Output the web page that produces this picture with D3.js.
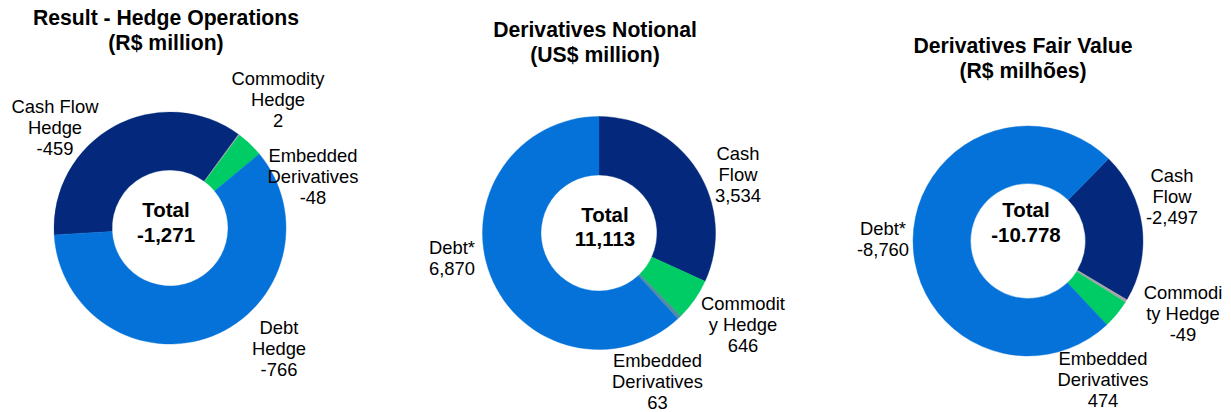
<!DOCTYPE html>
<html>
<head>
<meta charset="utf-8">
<script src="https://cdn.jsdelivr.net/npm/d3@7"></script>
<style>
  html, body { margin: 0; padding: 0; background: #fff; }
  svg { display: block; font-family: "Liberation Sans", Arial, sans-serif; }
</style>
</head>
<body>
<svg id="chart" width="1231" height="412"></svg>
<script>
// ---- data ----
const hedgeCategories = [["Cash Flow", "Hedge"], ["Commodity", "Hedge"], ["Embedded", "Derivatives"], ["Debt", "Hedge"]];
const hedgeValues = [-459, 2, -48, -766];
const hedgeTotal = "-1,271";

const notionalCategories = [["Cash", "Flow"], ["Commodit", "y Hedge"], ["Embedded", "Derivatives"], ["Debt*"]];
const notionalValues = [3534, 646, 63, 6870];
const notionalTotal = "11,113";

const fairCategories = [["Cash", "Flow"], ["Commodi", "ty Hedge"], ["Embedded", "Derivatives"], ["Debt*"]];
const fairValues = [-2497, -49, 474, -8760];
const fairTotal = "-10.778";

const titles = [
  ["Result - Hedge Operations", "(R$ million)"],
  ["Derivatives Notional", "(US$ million)"],
  ["Derivatives Fair Value", "(R$ milhões)"]
];

// ---- styling / layout ----
const NAVY = "#03287c", BLUE = "#0472d8", GREEN = "#00cc66", GRAY = "#a6a6a6", TEAL = "#4f8ea0";

const fmt = d3.format(",");

const charts = [
  {
    cats: hedgeCategories, vals: hedgeValues, total: hedgeTotal, title: titles[0],
    colors: [NAVY, GRAY, GREEN, BLUE],
    cx: 170, cy: 228, r0: 58, r1: 116, start: -93.4,
    titleX: 166, titleY: 25,
    totalX: 166, totalY: 217,
    labels: [[55, 113], [278, 85], [313, 161.5], [279, 334]]
  },
  {
    cats: notionalCategories, vals: notionalValues, total: notionalTotal, title: titles[1],
    colors: [NAVY, GREEN, TEAL, BLUE],
    cx: 599, cy: 233, r0: 58, r1: 116.5, start: 0,
    titleX: 595, titleY: 37,
    totalX: 605, totalY: 221.5,
    labels: [[738, 159.5], [743, 310], [657.5, 366.5], [452, 253.5]]
  },
  {
    cats: fairCategories, vals: fairValues, total: fairTotal, title: titles[2],
    colors: [NAVY, GRAY, GREEN, BLUE],
    cx: 1028, cy: 241, r0: 57.5, r1: 115, start: 44.4,
    titleX: 1023, titleY: 52.5,
    totalX: 1026, totalY: 217,
    labels: [[1172, 181.5], [1183, 299], [1103, 365], [883, 235]]
  }
];

const svg = d3.select("#chart");
const LABEL_SIZE = 18.4, LABEL_LH = 21;

charts.forEach(c => {
  const g = svg.append("g");

  // title
  g.append("text")
    .attr("x", c.titleX).attr("y", c.titleY)
    .attr("text-anchor", "middle")
    .attr("font-weight", "bold").attr("font-size", 21.2)
    .selectAll("tspan").data(c.title).join("tspan")
      .attr("x", c.titleX).attr("dy", (d, i) => i ? 25 : 0)
      .text(d => d);

  // donut
  const pie = d3.pie()
    .sort(null)
    .value(d => Math.abs(d))
    .startAngle(c.start * Math.PI / 180)
    .endAngle(c.start * Math.PI / 180 + 2 * Math.PI);
  const arc = d3.arc().innerRadius(c.r0).outerRadius(c.r1);

  g.append("g")
    .attr("transform", `translate(${c.cx},${c.cy})`)
    .selectAll("path").data(pie(c.vals)).join("path")
      .attr("d", arc)
      .attr("fill", (d, i) => c.colors[i])
      .attr("stroke", (d, i) => c.colors[i])
      .attr("stroke-width", 0.4);

  // centre total
  g.append("text")
    .attr("x", c.totalX).attr("y", c.totalY)
    .attr("text-anchor", "middle")
    .attr("font-weight", "bold").attr("font-size", 20.5)
    .selectAll("tspan").data(["Total", c.total]).join("tspan")
      .attr("x", c.totalX).attr("dy", (d, i) => i ? 24.5 : 0)
      .text(d => d);

  // slice labels
  c.vals.forEach((v, i) => {
    const lines = c.cats[i].concat([fmt(v).replace("−", "-")]);
    const [lx, ly] = c.labels[i];
    g.append("text")
      .attr("x", lx).attr("y", ly)
      .attr("text-anchor", "middle")
      .attr("font-size", LABEL_SIZE)
      .attr("fill", "#000")
      .selectAll("tspan").data(lines).join("tspan")
        .attr("x", lx).attr("dy", (d, k) => k ? LABEL_LH : 0)
        .text(d => d);
  });
});
</script>
</body>
</html>
